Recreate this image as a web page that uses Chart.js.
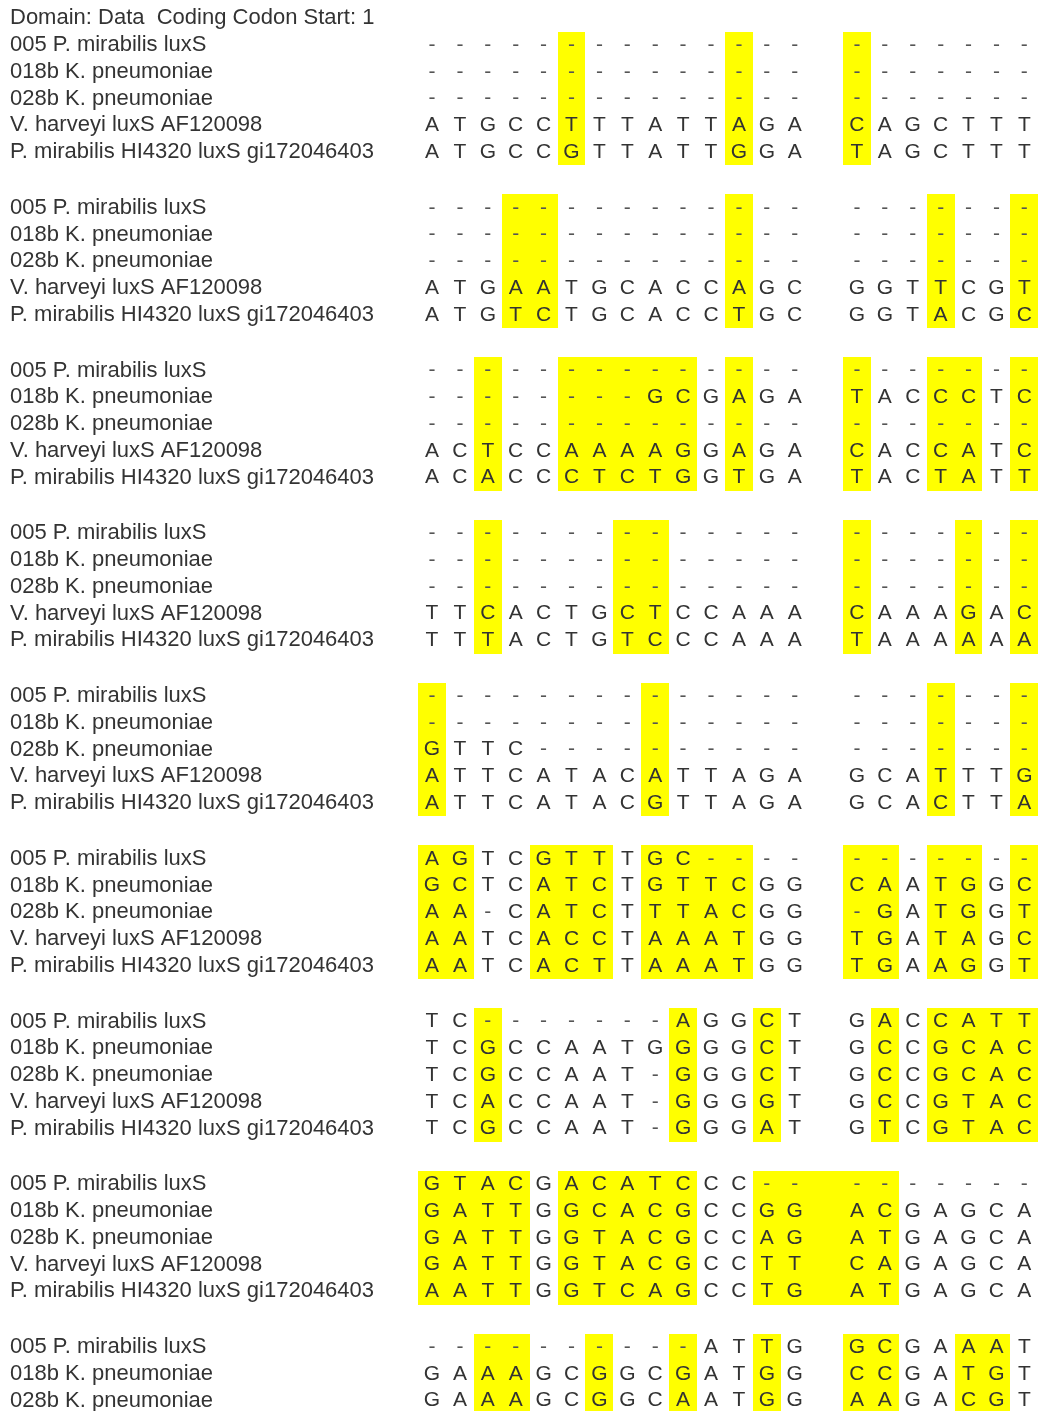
<!DOCTYPE html>
<html>
<head>
<meta charset="utf-8">
<title>luxS alignment</title>
<script src="https://cdn.jsdelivr.net/npm/chart.js@4.4.1/dist/chart.umd.min.js"></script>
<style>
    html, body { margin: 0; padding: 0; background: #fff; }
    canvas { display: block; }
</style>
</head>
<body>
<canvas id="alignmentChart" width="1038" height="1411"></canvas>
<script>
// 헤더 + 서열 이름
const headerText = 'Domain: Data  Coding Codon Start: 1';
const seqNames = [
    '005 P. mirabilis luxS',
    '018b K. pneumoniae',
    '028b K. pneumoniae',
    'V. harveyi luxS AF120098',
    'P. mirabilis HI4320 luxS gi172046403',
];

// 블록별 서열 (앞 14자 + 공백 + 뒤 7자)
const block1 = [
    '-------------- -------',
    '-------------- -------',
    '-------------- -------',
    'ATGCCTTTATTAGA CAGCTTT',
    'ATGCCGTTATTGGA TAGCTTT',
];
const block2 = [
    '-------------- -------',
    '-------------- -------',
    '-------------- -------',
    'ATGAATGCACCAGC GGTTCGT',
    'ATGTCTGCACCTGC GGTACGC',
];
const block3 = [
    '-------------- -------',
    '--------GCGAGA TACCCTC',
    '-------------- -------',
    'ACTCCAAAAGGAGA CACCATC',
    'ACACCCTCTGGTGA TACTATT',
];
const block4 = [
    '-------------- -------',
    '-------------- -------',
    '-------------- -------',
    'TTCACTGCTCCAAA CAAAGAC',
    'TTTACTGTCCCAAA TAAAAAA',
];
const block5 = [
    '-------------- -------',
    '-------------- -------',
    'GTTC---------- -------',
    'ATTCATACATTAGA GCATTTG',
    'ATTCATACGTTAGA GCACTTA',
];
const block6 = [
    'AGTCGTTTGC---- -------',
    'GCTCATCTGTTCGG CAATGGC',
    'AA-CATCTTTACGG -GATGGT',
    'AATCACCTAAATGG TGATAGC',
    'AATCACTTAAATGG TGAAGGT',
];
const block7 = [
    'TC-------AGGCT GACCATT',
    'TCGCCAATGGGGCT GCCGCAC',
    'TCGCCAAT-GGGCT GCCGCAC',
    'TCACCAAT-GGGGT GCCGTAC',
    'TCGCCAAT-GGGAT GTCGTAC',
];
const block8 = [
    'GTACGACATCCC-- -------',
    'GATTGGCACGCCGG ACGAGCA',
    'GATTGGTACGCCAG ATGAGCA',
    'GATTGGTACGCCTT CAGAGCA',
    'AATTGGTCAGCCTG ATGAGCA',
];
const block9 = [
    '----------ATTG GCGAAAT',
    'GAAAGCGGCGATGG CCGATGT',
    'GAAAGCGGCAATGG AAGACGT',
];

// 노란색 표시 열 (0~13 앞쪽, 14~20 뒤쪽)
const hl1 = [5, 11, 14];
const hl2 = [3, 4, 11, 17, 20];
const hl3 = [2, 5, 6, 7, 8, 9, 11, 14, 17, 18, 20];
const hl4 = [2, 7, 8, 14, 18, 20];
const hl5 = [0, 8, 17, 20];
const hl6 = [0, 1, 4, 5, 6, 8, 9, 10, 11, 14, 15, 17, 18, 20];
const hl7 = [2, 9, 12, 15, 17, 18, 19, 20];
const hl8 = [0, 1, 2, 3, 5, 6, 7, 8, 9, 12, 13, 14, 15];
const hl9 = [2, 3, 6, 9, 12, 14, 15, 18, 19];

const blocks = [block1, block2, block3, block4, block5, block6, block7, block8, block9];
const highlights = [hl1, hl2, hl3, hl4, hl5, hl6, hl7, hl8, hl9];

// 레이아웃 상수
const BLOCK_STRIDE = 6.085; // 블록 간격 (행 단위)
const GROUP_GAP = 1.23;     // 앞/뒤 그룹 사이 여백 (열 단위)
const FONT = '"Liberation Sans", Arial, sans-serif';

const rowValue = (b, r) => b * BLOCK_STRIDE + r;
const colValue = (c) => (c < 14 ? c : c + GROUP_GAP);

// y축 눈금 = 헤더 + 각 블록 서열 이름
const yTicks = [{ value: -1, label: headerText }];
blocks.forEach((rows, b) => {
    rows.forEach((_, r) => yTicks.push({ value: rowValue(b, r), label: seqNames[r] }));
});

// 하이라이트 칸과 염기 문자 그리기
const alignmentPlugin = {
    id: 'alignment',
    beforeDatasetsDraw(chart) {
        const { ctx, scales: { x, y } } = chart;
        ctx.save();

        // 1. 노란 칸
        ctx.fillStyle = '#ffff00';
        blocks.forEach((rows, b) => {
            const hl = highlights[b];
            const top = Math.round(y.getPixelForValue(rowValue(b, 0) - 0.5));
            const bottom = Math.round(y.getPixelForValue(rowValue(b, rows.length - 1) + 0.5));
            hl.forEach((c) => {
                let right = colValue(c) + 0.5;
                if (c === 13 && hl.includes(14)) right = colValue(14) - 0.5; // 그룹 사이 연결
                const left = Math.round(x.getPixelForValue(colValue(c) - 0.5));
                const rightPx = Math.round(x.getPixelForValue(right));
                ctx.fillRect(left, top, rightPx - left, bottom - top);
            });
        });

        // 2. 염기 문자
        ctx.font = `21px ${FONT}`;
        ctx.textAlign = 'center';
        ctx.textBaseline = 'middle';
        blocks.forEach((rows, b) => {
            rows.forEach((seq, r) => {
                const chars = seq.replace(' ', '');
                const py = y.getPixelForValue(rowValue(b, r));
                [...chars].forEach((ch, c) => {
                    ctx.fillStyle = ch === '-' ? '#555' : '#333';
                    ctx.fillText(ch, x.getPixelForValue(colValue(c)), py);
                });
            });
        });

        ctx.restore();
    },
};

new Chart(document.getElementById('alignmentChart'), {
    type: 'scatter',
    data: { datasets: [] },
    options: {
        responsive: false,
        animation: false,
        events: [],
        layout: { padding: { left: 10, right: 0, top: 0, bottom: 0 } },
        plugins: {
            legend: { display: false },
            tooltip: { enabled: false },
        },
        scales: {
            x: {
                type: 'linear',
                display: false,
                min: -0.609,
                max: 21.72,
            },
            y: {
                type: 'linear',
                reverse: true,
                min: -1.682,
                max: 51.07,
                grid: { display: false },
                border: { display: false },
                afterBuildTicks: (scale) => {
                    scale.ticks = yTicks.map((t) => ({ value: t.value }));
                },
                afterFit: (scale) => {
                    scale.width = 405;
                    scale.paddingTop = 0;
                    scale.paddingBottom = 0;
                },
                ticks: {
                    autoSkip: false,
                    crossAlign: 'far',
                    padding: 0,
                    color: '#333',
                    font: { family: FONT, size: 22 },
                    callback: (value, index) => yTicks[index].label,
                },
            },
        },
    },
    plugins: [alignmentPlugin],
});
</script>
</body>
</html>
